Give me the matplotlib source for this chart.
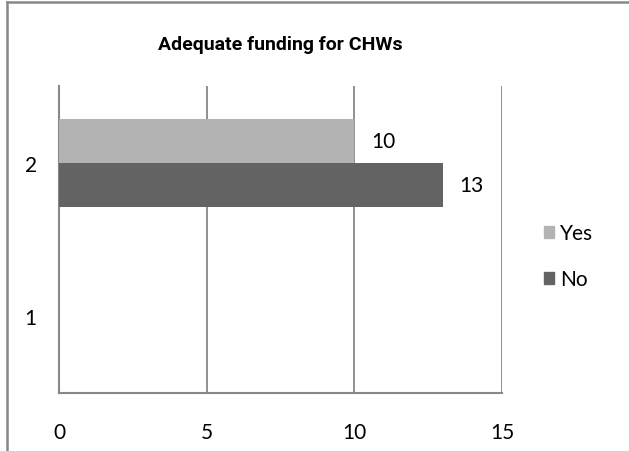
import numpy as np
import matplotlib.pyplot as plt
from matplotlib.lines import Line2D
from matplotlib.patches import Patch

plt.rcParams['font.family'] = ['Lato', 'DejaVu Sans']

# Datos del grafico
categories = ['1', '2']
yes_vals = [np.nan, 10]
no_vals = [np.nan, 13]
x_ticks = [0, 5, 10, 15]
series_names = ['Yes', 'No']
colors = ['#b3b3b3', '#636363']

fig = plt.figure(figsize=(6.29, 4.52), dpi=100)
ax = fig.add_axes([59 / 629, 1 - 394 / 452, 443 / 629, 307 / 452])

y = np.arange(len(categories))
h = 0.287
ax.barh(y + h / 2, yes_vals, height=h, color=colors[0], zorder=3)
ax.barh(y - h / 2, no_vals, height=h, color=colors[1], zorder=3)

# Etiquetas de valores
for i in range(len(categories)):
    for val, off in [(yes_vals[i], h / 2), (no_vals[i], -h / 2)]:
        if not np.isnan(val):
            ax.annotate(f'{val:g}', (val, y[i] + off), xytext=(12, 0),
                        textcoords='offset points', va='center', ha='left',
                        fontsize=15)

ax.set_xlim(0, 15)
ax.set_ylim(-0.5, 1.5)
ax.set_xticks(x_ticks)
ax.set_yticks(y)
ax.set_yticklabels(categories)
ax.tick_params(length=0, labelsize=15)
ax.tick_params(axis='x', pad=21)
ax.tick_params(axis='y', pad=16)
ax.grid(axis='x', color='#888888', linewidth=1.3, zorder=0)
for s in ['top', 'right']:
    ax.spines[s].set_visible(False)
for s in ['left', 'bottom']:
    ax.spines[s].set_color('#888888')
    ax.spines[s].set_linewidth(1.5)

fig.text(280 / 629, 1 - 45 / 452, 'Adequate funding for CHWs', ha='center',
         va='center', fontsize=14, fontweight='bold', family=['Roboto', 'DejaVu Sans'])

handles = [Patch(color=c, label=n) for c, n in zip(colors, series_names)]
fig.legend(handles=handles, loc='center left', bbox_to_anchor=(544 / 629, 1 - 257 / 452),
           frameon=False, fontsize=15, handlelength=0.5, handleheight=0.5,
           handletextpad=0.25, labelspacing=1.25, borderpad=0, borderaxespad=0)

# Borde del grafico
fig.add_artist(Line2D([7 / 629, 7 / 629], [0, 1 - 3 / 452], color='#888888', linewidth=1.8))
fig.add_artist(Line2D([7 / 629, 1], [1 - 3 / 452, 1 - 3 / 452], color='#888888', linewidth=1.8))

plt.savefig('out.png', dpi=100)
